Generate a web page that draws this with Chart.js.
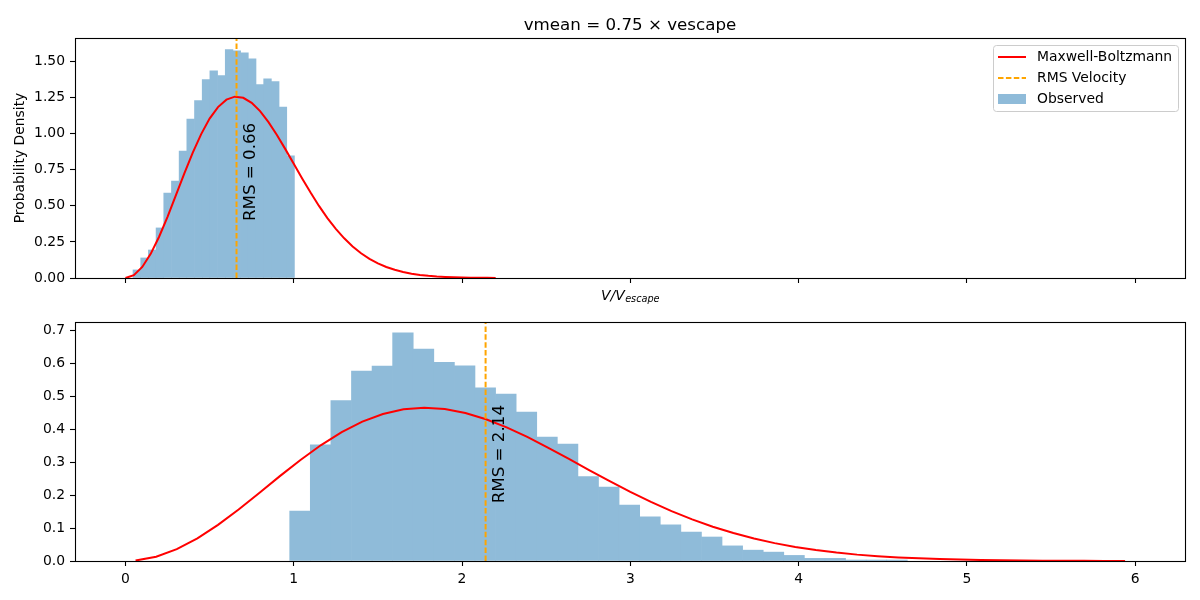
<!DOCTYPE html>
<html>
<head>
<meta charset="utf-8">
<script src="https://cdn.jsdelivr.net/npm/chart.js@4.4.0/dist/chart.umd.min.js"></script>
<style>
  body { margin: 0; background: #fff; }
  #caixa { position: relative; width: 1200px; height: 600px; }
  canvas { display: block; position: absolute; left: 0; }
  #graficoTopo { top: 0; }
  #graficoBase { top: 300px; }
</style>
</head>
<body>
<div id="caixa">
<canvas id="graficoTopo" width="1200" height="310"></canvas>
<canvas id="graficoBase" width="1200" height="300"></canvas>
</div>
<script>
// Eixo x compartilhado
var xMin = -0.2998;
var xMax = 6.296;
var xTicks = [0, 1, 2, 3, 4, 5, 6];

// Painel de cima: vmean = 0.75 x vescape
var topBinCenters = [0.0678, 0.1135, 0.1592, 0.2048, 0.2505, 0.2962, 0.3418, 0.3875, 0.4332, 0.4789, 0.5245,
  0.5702, 0.6159, 0.6615, 0.7072, 0.7529, 0.7985, 0.8442, 0.8899, 0.9356, 0.9812];
var topDensity = [0.056, 0.139, 0.194, 0.347, 0.588, 0.671, 0.880, 1.102, 1.229, 1.375, 1.435,
  1.403, 1.583, 1.574, 1.560, 1.519, 1.340, 1.380, 1.361, 1.185, 0.847];
var topCurveX = [0, 0.05, 0.1, 0.15, 0.2, 0.25, 0.3, 0.35, 0.4, 0.45, 0.5, 0.55, 0.6, 0.65, 0.7, 0.75, 0.8, 0.85,
  0.9, 0.95, 1.0, 1.05, 1.1, 1.15, 1.2, 1.25, 1.3, 1.35, 1.4, 1.45, 1.5, 1.55, 1.6, 1.65, 1.7, 1.75, 1.8, 1.85,
  1.9, 1.95, 2.0, 2.05, 2.1, 2.15, 2.2];
var topCurveY = [0, 0.0195, 0.0766, 0.1674, 0.2859, 0.4243, 0.5736, 0.7247, 0.8686, 0.9972, 1.1042, 1.1845,
  1.2356, 1.2564, 1.2484, 1.2136, 1.1562, 1.0800, 0.9905, 0.8930, 0.7913, 0.690, 0.592, 0.4995, 0.4152, 0.3404,
  0.2749, 0.2189, 0.1717, 0.1329, 0.1014, 0.0763, 0.0567, 0.0416, 0.0300, 0.0214, 0.0151, 0.0105, 0.0072,
  0.0049, 0.0033, 0.0022, 0.0014, 0.0009, 0.0006];
var topYMax = 1.663;
var topYTicks = [0, 0.25, 0.5, 0.75, 1.0, 1.25, 1.5];
var topRms = 0.66;
var topRmsTextY = 0.735;

// Painel de baixo
var baseBinCenters = [1.0372, 1.1595, 1.2818, 1.4042, 1.5265, 1.6488, 1.7712, 1.8935, 2.0158, 2.1382,
  2.2605, 2.3828, 2.5051, 2.6275, 2.7498, 2.8721, 2.9945, 3.1168, 3.2391, 3.3615,
  3.4838, 3.6061, 3.7285, 3.8508, 3.9731, 4.0955, 4.2178, 4.3401, 4.4625, 4.5848];
var baseDensity = [0.152, 0.353, 0.488, 0.578, 0.593, 0.694, 0.645, 0.604, 0.594, 0.527,
  0.508, 0.453, 0.377, 0.356, 0.257, 0.225, 0.170, 0.134, 0.110, 0.088,
  0.073, 0.046, 0.033, 0.027, 0.017, 0.008, 0.008, 0.003, 0.003, 0.003];
var baseCurveX = [0.06, 0.1825, 0.305, 0.4275, 0.55, 0.6725, 0.795, 0.9175, 1.04, 1.1625, 1.285, 1.4075,
  1.53, 1.6525, 1.775, 1.8975, 2.02, 2.1425, 2.265, 2.3875, 2.51, 2.6325, 2.755, 2.8775, 3.0, 3.1225,
  3.245, 3.3675, 3.49, 3.6125, 3.735, 3.8575, 3.98, 4.1025, 4.225, 4.3475, 4.47, 4.5925, 4.715, 4.8375,
  4.96, 5.0825, 5.205, 5.3275, 5.45, 5.5725, 5.695, 5.8175, 5.94];
var baseCurveY = [0.0014, 0.0132, 0.0361, 0.0690, 0.1099, 0.1568, 0.2070, 0.2581, 0.3074, 0.3527, 0.3921,
  0.4240, 0.4472, 0.4613, 0.4662, 0.4624, 0.4503, 0.4313, 0.4065, 0.3774, 0.3451, 0.3114, 0.2768, 0.2430,
  0.2105, 0.1801, 0.1519, 0.1267, 0.1044, 0.0850, 0.0685, 0.0544, 0.0428, 0.0333, 0.0256, 0.0194, 0.0146,
  0.0109, 0.0080, 0.0058, 0.0042, 0.0030, 0.0021, 0.0015, 0.0010, 0.0007, 0.0005, 0.0003, 0.0002];
var baseYMax = 0.727;
var baseYTicks = [0, 0.1, 0.2, 0.3, 0.4, 0.5, 0.6, 0.7];
var baseRms = 2.14;
var baseRmsTextY = 0.325;

var legendLabels = ['Maxwell-Boltzmann', 'RMS Velocity', 'Observed'];

var corHist = 'rgb(143,187,217)';
var corCurva = '#ff0000';
var corRms = '#ffa500';
var fonte = '"DejaVu Sans", sans-serif';

Chart.defaults.font.family = fonte;
Chart.defaults.font.size = 13.9;
Chart.defaults.color = '#000';

function pares(xs, ys) {
  return xs.map(function (x, i) { return { x: x, y: ys[i] }; });
}

function eixoX(mostrarRotulos, altura) {
  return {
    type: 'linear',
    min: xMin,
    max: xMax,
    offset: false,
    afterBuildTicks: function (s) { s.ticks = xTicks.map(function (v) { return { value: v }; }); },
    afterFit: function (s) { s.height = altura; },
    border: { display: false },
    grid: { offset: false, drawOnChartArea: false, drawTicks: true, tickLength: 5, tickColor: '#000', tickWidth: 1.1 },
    ticks: { display: mostrarRotulos, padding: 5, autoSkip: false, maxRotation: 0, callback: function (v) { return String(v); } }
  };
}

function eixoY(ymax, marcas, casas, titulo) {
  return {
    type: 'linear',
    min: 0,
    max: ymax,
    afterBuildTicks: function (s) { s.ticks = marcas.map(function (v) { return { value: v }; }); },
    afterFit: function (s) { s.width = 75; },
    border: { display: false },
    grid: { drawOnChartArea: false, drawTicks: true, tickLength: 5, tickColor: '#000', tickWidth: 1.1 },
    ticks: { padding: 5, autoSkip: false, callback: function (v) { return v.toFixed(casas); } },
    title: { display: !!titulo, text: titulo || '', padding: { top: 12.5, bottom: 0 }, font: { size: 13.9 } }
  };
}

// moldura, textos e legenda desenhados por cima
function extras(rms, rmsY, comTitulo) {
  return {
    id: 'extras',
    afterDraw: function (chart) {
      var ctx = chart.ctx;
      var a = chart.chartArea;
      var sx = chart.scales.x, sy = chart.scales.y;
      ctx.save();
      // texto RMS
      ctx.font = '16.7px ' + fonte;
      ctx.fillStyle = '#000';
      ctx.translate(sx.getPixelForValue(rms + 0.05) + 6, sy.getPixelForValue(rmsY));
      ctx.rotate(-Math.PI / 2);
      ctx.textAlign = 'center';
      ctx.textBaseline = 'middle';
      ctx.fillText('RMS = ' + rms.toFixed(2), 0, 0);
      ctx.restore();

      ctx.save();
      ctx.strokeStyle = '#000';
      ctx.lineWidth = 1.1;
      ctx.strokeRect(Math.round(a.left) + 0.5, Math.round(a.top) + 0.5,
        Math.round(a.right - a.left), Math.round(a.bottom - a.top));

      if (comTitulo) {
        var cx = (a.left + a.right) / 2;
        ctx.fillStyle = '#000';
        ctx.font = '16.7px ' + fonte;
        ctx.textAlign = 'center';
        ctx.textBaseline = 'alphabetic';
        ctx.fillText('vmean = 0.75 \u00d7 vescape', cx, 30);

        // rotulo do eixo x: V/V_escape
        ctx.textAlign = 'left';
        var f1 = 'italic 13.9px ' + fonte, f2 = 'italic 9.7px ' + fonte;
        ctx.font = f1; var w1 = ctx.measureText('V/V').width;
        ctx.font = f2; var w2 = ctx.measureText('escape').width;
        var x0 = cx - (w1 + w2) / 2;
        ctx.font = f1; ctx.fillText('V/V', x0, 299.5);
        ctx.font = f2; ctx.fillText('escape', x0 + w1 + 0.5, 302);

        // legenda
        var lx = 993.5, ly = 45.5, lw = 185, lh = 66;
        ctx.beginPath();
        ctx.roundRect(lx, ly, lw, lh, 3);
        ctx.fillStyle = 'rgba(255,255,255,0.8)';
        ctx.fill();
        ctx.strokeStyle = '#cccccc';
        ctx.lineWidth = 1;
        ctx.stroke();
        var linhas = [57, 78, 99];
        ctx.lineWidth = 2;
        ctx.strokeStyle = corCurva;
        ctx.beginPath(); ctx.moveTo(998, linhas[0]); ctx.lineTo(1026, linhas[0]); ctx.stroke();
        ctx.strokeStyle = corRms;
        ctx.setLineDash([5.5, 2.4]);
        ctx.beginPath(); ctx.moveTo(998, linhas[1]); ctx.lineTo(1026, linhas[1]); ctx.stroke();
        ctx.setLineDash([]);
        ctx.fillStyle = corHist;
        ctx.fillRect(998, linhas[2] - 5, 28, 10);
        ctx.fillStyle = '#000';
        ctx.font = '13.9px ' + fonte;
        ctx.textBaseline = 'middle';
        legendLabels.forEach(function (t, i) { ctx.fillText(t, 1037, linhas[i]); });
      }
      ctx.restore();
    }
  };
}

function montaGrafico(id, bins, dens, cx, cy, ymax, yticks, casas, rms, rmsY, topo) {
  var ctx = document.getElementById(id).getContext('2d');
  return new Chart(ctx, {
    type: 'bar',
    data: {
      datasets: [{
        label: 'Observed',
        data: pares(bins, dens),
        backgroundColor: corHist,
        borderWidth: 0,
        barPercentage: 1,
        categoryPercentage: 1,
        order: 3
      }, {
        type: 'line',
        label: 'Maxwell-Boltzmann',
        data: pares(cx, cy),
        borderColor: corCurva,
        borderWidth: 2,
        pointRadius: 0,
        tension: 0,
        fill: false,
        order: 2
      }, {
        type: 'line',
        label: 'RMS Velocity',
        data: pares([rms, rms], [0, ymax]),
        borderColor: corRms,
        borderWidth: 2,
        borderDash: [5.5, 2.4],
        pointRadius: 0,
        fill: false,
        order: 1
      }]
    },
    options: {
      responsive: false,
      animation: false,
      events: [],
      layout: { padding: { top: topo ? 38 : 22, right: 15, left: 0, bottom: 0 } },
      scales: {
        x: eixoX(!topo, topo ? 32 : 39),
        y: eixoY(ymax, yticks, casas, topo ? 'Probability Density' : '')
      },
      plugins: { legend: { display: false }, title: { display: false }, tooltip: { enabled: false } }
    },
    plugins: [extras(rms, rmsY, topo)]
  });
}

var graficoTopo = montaGrafico('graficoTopo', topBinCenters, topDensity, topCurveX, topCurveY,
  topYMax, topYTicks, 2, topRms, topRmsTextY, true);
var graficoBase = montaGrafico('graficoBase', baseBinCenters, baseDensity, baseCurveX, baseCurveY,
  baseYMax, baseYTicks, 1, baseRms, baseRmsTextY, false);
</script>
</body>
</html>
